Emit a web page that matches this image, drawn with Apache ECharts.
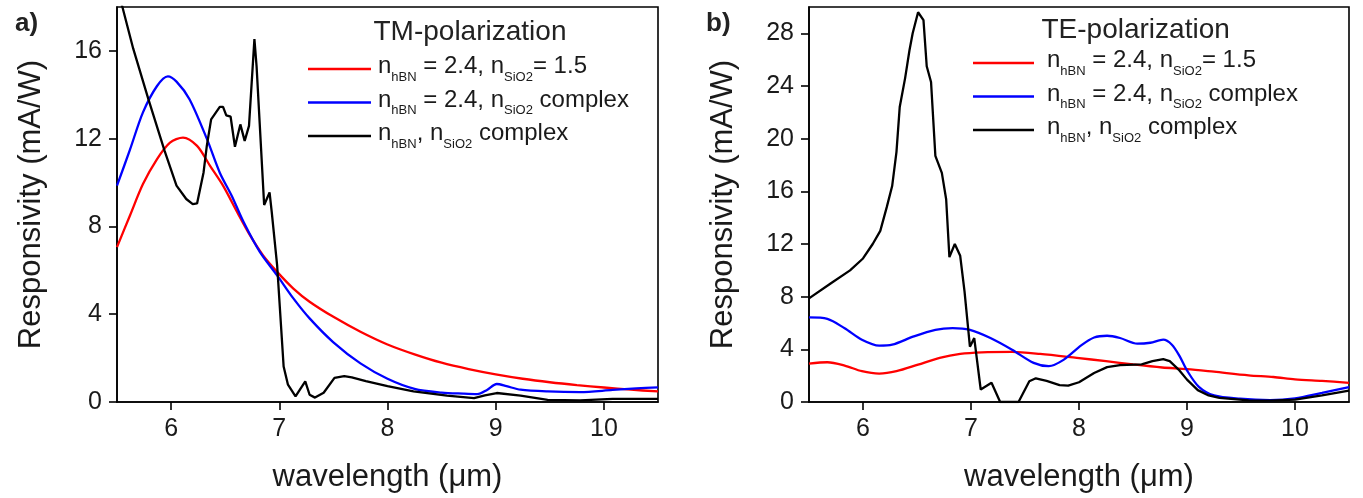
<!DOCTYPE html>
<html>
<head>
<meta charset="utf-8">
<script src="https://cdn.jsdelivr.net/npm/echarts@6/dist/echarts.min.js"></script>
<style>
  html, body { margin: 0; padding: 0; background: #fff; }
  #chart { width: 1363px; height: 498px; }
</style>
</head>
<body>
<div id="chart"></div>
<script>
// Tick positions
const wavelengthTicks = [6, 7, 8, 9, 10];
const tmTicks = [0, 4, 8, 12, 16];
const teTicks = [0, 4, 8, 12, 16, 20, 24, 28];

// Legend entries (plain names) and their subscript rich-text forms
const curveNames = ['nhBN = 2.4, nSiO2 = 1.5', 'nhBN = 2.4, nSiO2 complex', 'nhBN, nSiO2 complex'];
const curveLabels = [
  '{m|n}{s|hBN}{m| = 2.4, n}{s|SiO2}{m|= 1.5}',
  '{m|n}{s|hBN}{m| = 2.4, n}{s|SiO2}{m| complex}',
  '{m|n}{s|hBN}{m|, n}{s|SiO2}{m| complex}'
];
const curveColors = ['#ff0000', '#0000ff', '#000000'];

// TM polarization: [wavelength (um), responsivity (mA/W)]
const tmRealIndex = [
  [5.5, 7.06], [5.62, 8.5], [5.74, 9.93], [5.87, 11.07], [5.99, 11.82], [6.11, 12.05],
  [6.24, 11.67], [6.36, 10.76], [6.48, 9.86], [6.61, 8.66], [6.73, 7.59], [6.85, 6.68],
  [6.98, 5.93], [7.13, 5.17], [7.28, 4.57], [7.5, 3.88], [7.75, 3.2], [8.0, 2.62],
  [8.25, 2.17], [8.5, 1.79], [8.75, 1.5], [9.0, 1.26], [9.25, 1.06], [9.5, 0.9],
  [9.75, 0.77], [10.0, 0.66], [10.25, 0.56], [10.5, 0.48]
];
const tmComplexSiO2 = [
  [5.5, 9.86], [5.62, 11.5], [5.74, 13.2], [5.87, 14.4], [5.97, 14.84], [6.05, 14.6],
  [6.17, 13.8], [6.33, 12.0], [6.45, 10.45], [6.56, 9.4], [6.67, 8.2], [6.82, 6.84],
  [6.98, 5.77], [7.13, 4.72], [7.28, 3.81], [7.5, 2.72], [7.75, 1.76], [8.0, 1.06],
  [8.25, 0.6], [8.5, 0.43], [8.7, 0.38], [8.83, 0.36], [8.92, 0.55], [9.01, 0.82],
  [9.1, 0.72], [9.23, 0.56], [9.48, 0.48], [9.78, 0.45], [10.08, 0.55], [10.3, 0.62],
  [10.5, 0.67]
];
const tmComplexBoth = [
  [5.5, 18.9], [5.55, 18.0], [5.65, 16.1], [5.79, 13.8], [5.94, 11.44], [6.05, 9.86],
  [6.14, 9.25], [6.2, 9.02], [6.24, 9.05], [6.3, 10.46], [6.33, 11.67], [6.37, 12.88],
  [6.45, 13.45], [6.48, 13.45], [6.51, 13.06], [6.55, 13.0], [6.59, 11.63], [6.64, 12.65],
  [6.68, 11.9], [6.72, 12.58], [6.77, 16.54], [6.79, 15.3], [6.86, 8.98], [6.91, 9.55],
  [6.93, 8.66], [6.98, 6.23], [7.04, 1.62], [7.08, 0.79], [7.15, 0.26], [7.24, 0.94],
  [7.28, 0.33], [7.33, 0.2], [7.41, 0.42], [7.51, 1.1], [7.6, 1.18], [7.67, 1.12],
  [7.8, 0.95], [8.0, 0.72], [8.24, 0.48], [8.55, 0.29], [8.8, 0.18], [8.9, 0.3],
  [9.01, 0.41], [9.23, 0.29], [9.48, 0.1], [9.78, 0.07], [10.08, 0.14], [10.5, 0.14]
];

// TE polarization
const teRealIndex = [
  [5.5, 2.92], [5.67, 3.02], [5.83, 2.77], [5.99, 2.34], [6.15, 2.16], [6.31, 2.34],
  [6.51, 2.84], [6.71, 3.35], [6.9, 3.65], [7.1, 3.77], [7.38, 3.8], [7.64, 3.65],
  [7.98, 3.35], [8.25, 3.1], [8.5, 2.85], [8.77, 2.62], [9.0, 2.5], [9.25, 2.3],
  [9.57, 2.03], [9.8, 1.9], [10.0, 1.72], [10.25, 1.6], [10.5, 1.46]
];
const teComplexSiO2 = [
  [5.5, 6.42], [5.67, 6.31], [5.83, 5.6], [5.99, 4.73], [6.15, 4.28], [6.27, 4.35],
  [6.47, 4.98], [6.67, 5.48], [6.83, 5.61], [6.99, 5.48], [7.18, 4.86], [7.38, 3.97],
  [7.58, 2.97], [7.72, 2.72], [7.86, 3.22], [8.02, 4.3], [8.14, 4.9], [8.26, 5.03],
  [8.38, 4.86], [8.54, 4.43], [8.66, 4.5], [8.78, 4.73], [8.86, 4.35], [8.93, 3.5],
  [9.0, 2.4], [9.11, 1.15], [9.25, 0.5], [9.49, 0.25], [9.77, 0.15], [10.0, 0.28],
  [10.25, 0.7], [10.5, 1.13]
];
const teComplexBoth = [
  [5.5, 7.87], [5.7, 9.0], [5.88, 10.0], [6.0, 10.9], [6.09, 12.0], [6.16, 13.0],
  [6.22, 14.8], [6.27, 16.4], [6.31, 19.0], [6.34, 22.4], [6.39, 24.6], [6.43, 26.7],
  [6.46, 28.0], [6.51, 29.6], [6.56, 29.0], [6.59, 25.5], [6.63, 24.3], [6.67, 18.7],
  [6.73, 17.4], [6.77, 15.4], [6.8, 11.0], [6.85, 12.0], [6.9, 11.1], [6.94, 8.4],
  [6.99, 4.2], [7.03, 4.85], [7.09, 0.95], [7.19, 1.46], [7.27, 0], [7.44, 0],
  [7.54, 1.58], [7.6, 1.8], [7.7, 1.6], [7.82, 1.28], [7.9, 1.24], [8.0, 1.5],
  [8.14, 2.2], [8.26, 2.65], [8.38, 2.8], [8.58, 2.85], [8.68, 3.1], [8.78, 3.25],
  [8.84, 3.1], [8.93, 2.4], [9.0, 1.7], [9.1, 0.9], [9.2, 0.5], [9.3, 0.32],
  [9.57, 0.12], [9.77, 0.1], [10.0, 0.18], [10.25, 0.5], [10.5, 0.86]
];

const FONT = '"Liberation Sans", Arial, Helvetica, sans-serif';
const TEXT = '#1a1a1a';

function xAxisFor(gridIndex) {
  return {
    type: 'value', gridIndex, min: 5.5, max: 10.5,
    name: 'wavelength (μm)', nameLocation: 'middle', nameGap: 60,
    nameTextStyle: { fontFamily: FONT, fontSize: 31, color: TEXT },
    axisLine: { lineStyle: { color: '#000', width: 1.6 } },
    axisTick: { show: true, inside: false, length: 8, lineStyle: { color: '#000', width: 1.6 }, customValues: wavelengthTicks },
    axisLabel: { customValues: wavelengthTicks, margin: 15, fontFamily: FONT, fontSize: 25, color: TEXT },
    splitLine: { show: false }
  };
}
function yAxisFor(gridIndex, max, ticks) {
  return {
    type: 'value', gridIndex, min: 0, max,
    name: 'Responsivity (mA/W)', nameLocation: 'middle', nameGap: 70, nameRotate: 90,
    nameTextStyle: { fontFamily: FONT, fontSize: 31, color: TEXT },
    axisLine: { lineStyle: { color: '#000', width: 1.6 } },
    axisTick: { show: true, inside: false, length: 8, lineStyle: { color: '#000', width: 1.6 }, customValues: ticks },
    axisLabel: { customValues: ticks, margin: 15, fontFamily: FONT, fontSize: 25, color: TEXT },
    splitLine: { show: false }
  };
}
function legendFor(left, top, iconWidth, textGap) {
  return {
    orient: 'vertical', left, top, padding: 0, itemGap: 4.5,
    itemWidth: iconWidth, itemHeight: 2.5, icon: 'rect', selectedMode: false,
    data: curveNames,
    formatter: name => curveLabels[curveNames.indexOf(name)],
    textStyle: {
      padding: [0, 0, 0, textGap],
      color: TEXT, fontFamily: FONT,
      rich: {
        m: { fontFamily: FONT, fontSize: 24, color: TEXT, verticalAlign: 'top', lineHeight: 29 },
        s: { fontFamily: FONT, fontSize: 13, color: TEXT, verticalAlign: 'bottom' }
      }
    }
  };
}
function lineSeries(name, data, color, xi, smooth) {
  return {
    type: 'line', name, data, xAxisIndex: xi, yAxisIndex: xi,
    symbol: 'none', showSymbol: false, smooth, clip: true,
    lineStyle: { color, width: 2.3 }, itemStyle: { color },
    emphasis: { disabled: true }
  };
}

const chart = echarts.init(document.getElementById('chart'), null, { renderer: 'canvas' });
chart.setOption({
  animation: false,
  backgroundColor: '#fff',
  title: [
    { text: 'a)', left: 15, top: 11, padding: 0, textStyle: { fontFamily: FONT, fontSize: 26, fontWeight: 'bold', color: '#222' } },
    { text: 'b)', left: 706, top: 11, padding: 0, textStyle: { fontFamily: FONT, fontSize: 26, fontWeight: 'bold', color: '#222' } },
    { text: 'TM-polarization', left: 373.5, top: 18, padding: 0, textStyle: { fontFamily: FONT, fontSize: 28, fontWeight: 'normal', color: '#222' } },
    { text: 'TE-polarization', left: 1041.5, top: 16.5, padding: 0, textStyle: { fontFamily: FONT, fontSize: 28, fontWeight: 'normal', color: '#222' } }
  ],
  legend: [
    legendFor(308, 54.5, 63, 2),
    legendFor(973, 48.5, 61, 8)
  ],
  grid: [
    { left: 117, top: 7, width: 541, height: 397, show: true, borderColor: '#000', borderWidth: 1.6, backgroundColor: 'transparent' },
    { left: 809, top: 7, width: 540, height: 397, show: true, borderColor: '#000', borderWidth: 1.6, backgroundColor: 'transparent' }
  ],
  xAxis: [xAxisFor(0), xAxisFor(1)],
  yAxis: [yAxisFor(0, 18, tmTicks), yAxisFor(1, 30, teTicks)],
  series: [
    lineSeries(curveNames[0], tmRealIndex, curveColors[0], 0, 0.3),
    lineSeries(curveNames[1], tmComplexSiO2, curveColors[1], 0, 0.3),
    lineSeries(curveNames[2], tmComplexBoth, curveColors[2], 0, false),
    lineSeries(curveNames[0], teRealIndex, curveColors[0], 1, 0.3),
    lineSeries(curveNames[1], teComplexSiO2, curveColors[1], 1, 0.3),
    lineSeries(curveNames[2], teComplexBoth, curveColors[2], 1, false)
  ]
});
</script>
</body>
</html>
